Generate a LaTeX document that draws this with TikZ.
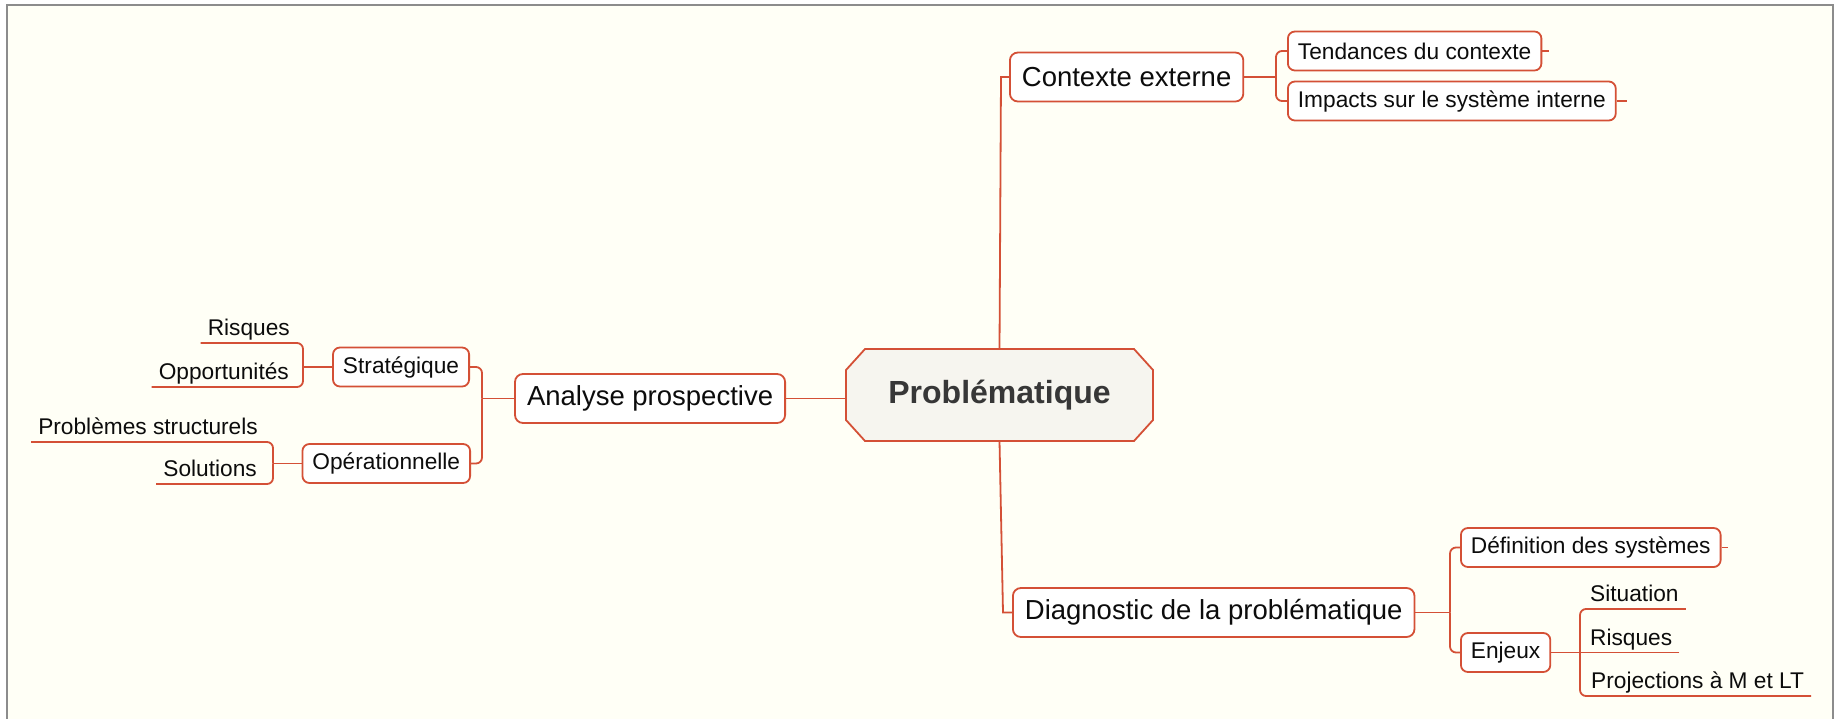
\documentclass[tikz,border=0pt]{standalone}
\usepackage{fontspec}
\setmainfont{Liberation Sans}
\usetikzlibrary{calc}
\definecolor{mmred}{RGB}{212,80,54}
\definecolor{bgcream}{RGB}{255,255,246}
\definecolor{framegray}{RGB}{140,140,140}
\definecolor{txt}{RGB}{12,12,12}
\definecolor{ctrfill}{RGB}{246,245,239}
\definecolor{ctrtxt}{RGB}{55,55,55}
\tikzset{
 conn/.style={draw=mmred, line width=1.8pt},
 rc/.style={conn, rounded corners=6pt},
 topicbox/.style={draw=mmred, line width=1.8pt, fill=white, rounded corners=8pt, text=txt,
   font=\fontsize{27.5}{30}\selectfont, minimum height=49pt, inner xsep=12pt, inner ysep=0pt},
 subbox/.style={draw=mmred, line width=1.8pt, fill=white, rounded corners=7pt, text=txt,
   font=\fontsize{22.7}{25}\selectfont, minimum height=39pt, inner xsep=10pt, inner ysep=0pt},
 leaf/.style={text=txt, font=\fontsize{22.7}{25}\selectfont, inner xsep=7pt, inner ysep=0pt},
 ctrnode/.style={minimum width=307pt, minimum height=92pt, inner sep=0pt, text=ctrtxt,
   font=\bfseries\fontsize{32}{36}\selectfont},
 octo/.style={draw=mmred, line width=1.8pt, fill=ctrfill, line join=miter},
}
\begin{document}
\begin{tikzpicture}[x=1pt,y=-1pt]
\useasboundingbox (0,0) rectangle (1839,718);
\fill[white] (0,0) rectangle (1839,718);
\fill[bgcream] (7,5) rectangle (1833,720);
\draw[framegray, line width=2pt] (7,720) -- (7,5) -- (1833,5) -- (1833,720);

% central node
\coordinate (c0) at (999.5,395);
\draw[octo] ($(c0)+(-134.5,-46)$) -- ($(c0)+(134.5,-46)$) -- ($(c0)+(153.5,-25)$) -- ($(c0)+(153.5,25)$)
  -- ($(c0)+(134.5,46)$) -- ($(c0)+(-134.5,46)$) -- ($(c0)+(-153.5,25)$) -- ($(c0)+(-153.5,-25)$) -- cycle;
\node[ctrnode] (ctr) at (c0) {Problématique};

% level 1
\node[topicbox, anchor=west] (ctx) at (1009,77) {Contexte externe};
\node[topicbox, anchor=east] (ana) at (786,398.5) {Analyse prospective};
\node[topicbox, anchor=west] (diag) at (1012,612.5) {Diagnostic de la problématique};

% level 2 boxes
\node[subbox, anchor=west] (tend) at (1287,51) {Tendances du contexte};
\node[subbox, anchor=west] (imp) at (1287,101) {Impacts sur le système interne};
\node[subbox, anchor=east] (strat) at (470,367) {Stratégique};
\node[subbox, anchor=east] (oper) at (471,463.5) {Opérationnelle};
\node[subbox, anchor=west] (def) at (1460,547.5) {Définition des systèmes};
\node[subbox, anchor=west] (enj) at (1460,652.5) {Enjeux};

% leaves
\node[leaf, anchor=base east] (risq) at (297,335.5) {Risques};
\node[leaf, anchor=base east] (opp) at (296,379.5) {Opportunités};
\node[leaf, anchor=base east] (prob) at (265,434.5) {Problèmes structurels};
\node[leaf, anchor=base east] (sol) at (264,476.5) {Solutions};
\node[leaf, anchor=base west] (sit) at (1583,601.5) {Situation};
\node[leaf, anchor=base west] (risq2) at (1583,645) {Risques};
\node[leaf, anchor=base west] (proj) at (1584,688.5) {Projections à M et LT};

% bracket coordinates
\coordinate (tT) at (1001,77);
\coordinate (tB) at (1003,612.5);
\coordinate (bC) at (1276,77);
\coordinate (bA) at (482,398.5);
\coordinate (bS) at (303,367);
\coordinate (bO) at (273,463.5);
\coordinate (bD) at (1450,612.5);
\coordinate (bE) at (1580,652.5);

% connectors
\draw[conn] (ctr.north) -- (tT) -- (ctx.west);
\draw[conn] (ctr.south) -- (tB) -- (diag.west);
\draw[conn] (ana.east) -- (ana.east -| ctr.west);

\draw[conn] (ctx.east) -- (bC);
\draw[rc] (tend.west) -| (bC);
\draw[rc] (imp.west) -| (bC);
\draw[conn] (tend.east) -- ++(7,0);
\draw[conn] (imp.east) -- ++(10,0);

\draw[conn] (ana.west) -- (bA);
\draw[rc] (strat.east) -| (bA);
\draw[rc] (oper.east) -| (bA);

\draw[conn] (strat.west) -- (bS);
\draw[rc] ($(risq.base west)+(0,7.5)$) -| (bS);
\draw[rc] ($(opp.base west)+(0,7.5)$) -| (bS);

\draw[conn] (oper.west) -- (bO);
\draw[rc] ($(prob.base west)+(0,7.5)$) -| (bO);
\draw[rc] ($(sol.base west)+(0,7.5)$) -| (bO);

\draw[conn] (diag.east) -- (bD);
\draw[rc] (def.west) -| (bD);
\draw[rc] (enj.west) -| (bD);
\draw[conn] (def.east) -- ++(6,0);

\draw[conn] (enj.east) -- (bE);
\draw[rc] ($(sit.base east)+(0,7.5)$) -| (bE);
\draw[conn] ($(risq2.base east)+(0,7.5)$) -- (bE);
\draw[rc] ($(proj.base east)+(0,7.5)$) -| (bE);
\end{tikzpicture}
\end{document}
